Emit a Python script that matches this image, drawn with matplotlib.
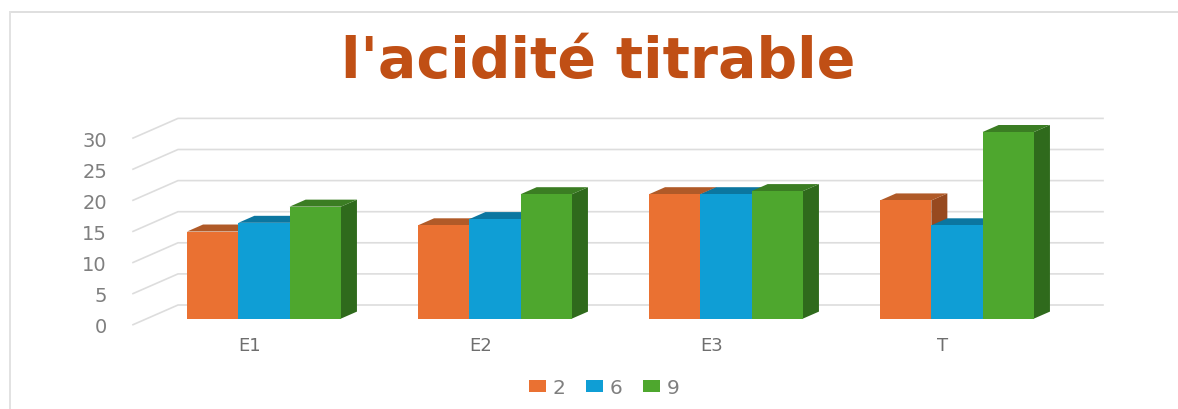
import matplotlib
matplotlib.use("Agg")
import matplotlib.pyplot as plt
from matplotlib.lines import Line2D
from matplotlib.patches import Patch, Polygon

categories = ["E1", "E2", "E3", "T"]
series_names = ["2", "6", "9"]
values_2 = [14, 15, 20, 19]
values_6 = [15.4, 16, 20, 15]
values_9 = [18, 20, 20.5, 30]
y_ticks = [0, 5, 10, 15, 20, 25, 30]

front_colors = ["#EA7132", "#0F9ED5", "#4EA72E"]
top_colors = ["#B05A28", "#0B76A0", "#3B7D23"]
side_colors = ["#97491F", "#095F80", "#2F6A1C"]

W, H = 1178, 410
PX_X = 231.0   # pixels par categorie
PX_Y = 6.22    # pixels par unite
X0, Y0 = 264.0, 319.6   # pixel du centre E1 / base des barres

bar_w = 51.3 / PX_X
depth_x = 16 / PX_X
depth_y = 7 / PX_Y
floor_dx = 45 / PX_X
floor_dy = 19.7 / PX_Y
front_off = -6.1 / PX_Y   # ligne avant du plancher, sous la base des barres
wall_left = (133 - X0) / PX_X
wall_right = (1103 - X0) / PX_X

fig = plt.figure(figsize=(W / 100, H / 100), dpi=100)
ax = fig.add_axes([0, 0, 1, 1])
ax.set_xlim(-X0 / PX_X, (W - X0) / PX_X)
ax.set_ylim(-(H - Y0) / PX_Y, Y0 / PX_Y)
ax.axis("off")

# --- cadre du graphique ---
fig.add_artist(Line2D([10 / W, 1], [1 - 12.5 / H, 1 - 12.5 / H], color="#D9D9D9", linewidth=1.2))
fig.add_artist(Line2D([10 / W, 10 / W], [0, 1 - 12.5 / H], color="#E2E2E2", linewidth=1.4))

# --- grille : plancher/mur en perspective ---
for v in y_ticks:
    y_front = v + front_off
    ax.plot([wall_left, wall_left + floor_dx, wall_right],
            [y_front, y_front + floor_dy, y_front + floor_dy],
            color="#DDDDDD", linewidth=1.2, zorder=1, solid_joinstyle="round")
    ax.text((107 - X0) / PX_X, y_front, str(v), ha="right", va="center_baseline",
            fontsize=14, color="#7F7F7F")

# --- barres 3D ---
all_values = [values_2, values_6, values_9]
z = 2
for i, cat in enumerate(categories):
    for j, vals in enumerate(all_values):
        left = i + (j - 1.5) * bar_w
        right = left + bar_w
        top = vals[i]
        ax.add_patch(Polygon([(right, 0), (right + depth_x, depth_y),
                              (right + depth_x, top + depth_y), (right, top)],
                             facecolor=side_colors[j], edgecolor="none", zorder=z))
        ax.add_patch(Polygon([(left, top), (left + depth_x, top + depth_y),
                              (right + depth_x, top + depth_y), (right, top)],
                             facecolor=top_colors[j], edgecolor="none", zorder=z))
        ax.add_patch(Polygon([(left, 0), (right, 0), (right, top), (left, top)],
                             facecolor=front_colors[j], edgecolor="none", zorder=z))
        z += 1
    ax.text(i - 14 / PX_X, -(346 - Y0) / PX_Y, cat, ha="center", va="center",
            fontsize=13, color="#6E6E6E")

# --- titre ---
ax.text((598 - X0) / PX_X, (Y0 - 78) / PX_Y, "l'acidité titrable", ha="center", va="baseline",
        fontsize=41, fontweight="bold", color="#C04F15")

# --- legende ---
handles = [Patch(facecolor=c, edgecolor="none", label=n) for c, n in zip(front_colors, series_names)]
ax.legend(handles=handles, ncol=3, frameon=False, loc="center",
          bbox_to_anchor=(604 / W, 1 - 389 / H), fontsize=14.5, labelcolor="#7F7F7F",
          handlelength=0.85, handleheight=0.55, handletextpad=0.3, columnspacing=1.05)

fig.savefig("out.png", dpi=100)
